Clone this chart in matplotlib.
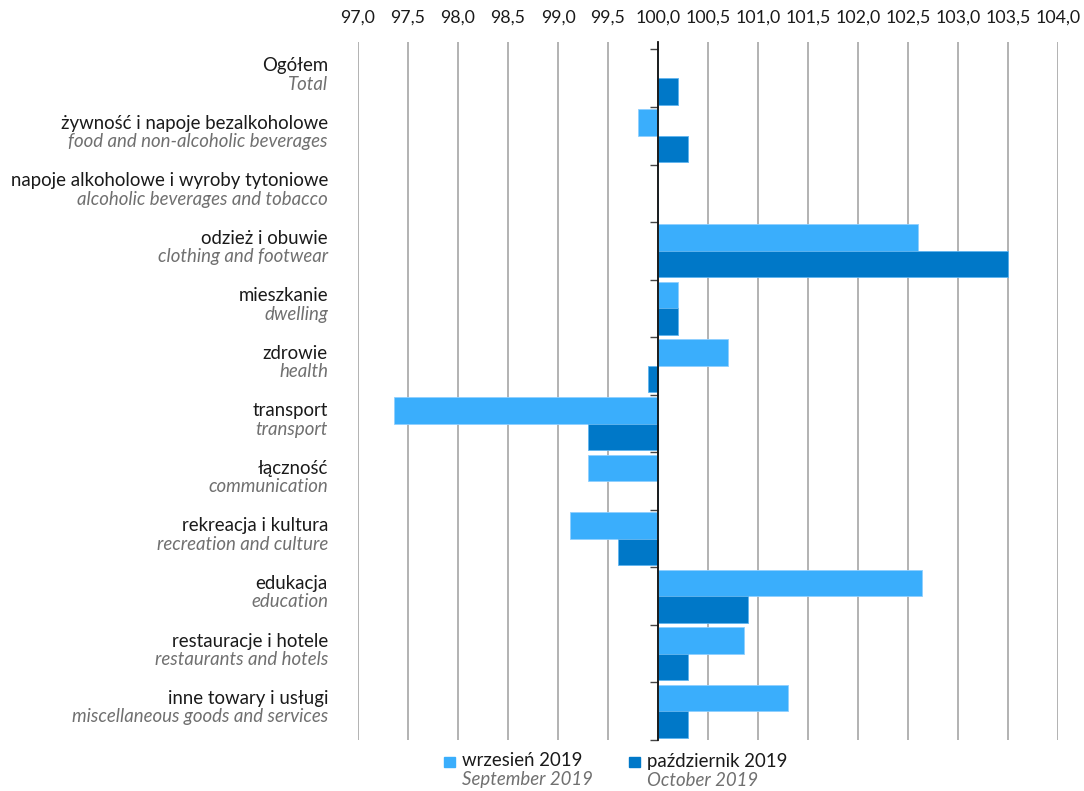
import matplotlib
matplotlib.use("Agg")
import matplotlib.pyplot as plt
from matplotlib.patches import Rectangle
from matplotlib.ticker import FuncFormatter
from matplotlib.transforms import blended_transform_factory

plt.rcParams["font.family"] = ["Lato", "DejaVu Sans"]

categories_pl = [
    "Ogółem",
    "żywność i napoje bezalkoholowe",
    "napoje alkoholowe i wyroby tytoniowe",
    "odzież i obuwie",
    "mieszkanie",
    "zdrowie",
    "transport",
    "łączność",
    "rekreacja i kultura",
    "edukacja",
    "restauracje i hotele",
    "inne towary i usługi",
]
categories_en = [
    "Total",
    "food and non-alcoholic beverages",
    "alcoholic beverages and tobacco",
    "clothing and footwear",
    "dwelling",
    "health",
    "transport",
    "communication",
    "recreation and culture",
    "education",
    "restaurants and hotels",
    "miscellaneous goods and services",
]
sep_2019 = [100.0, 99.8, 100.0, 102.6, 100.2, 100.7, 97.36, 99.3, 99.12, 102.64, 100.86, 101.3]
oct_2019 = [100.2, 100.3, 100.0, 103.5, 100.2, 99.9, 99.3, 100.0, 99.6, 100.9, 100.3, 100.3]
x_ticks = [97.0 + 0.5 * i for i in range(15)]

SEP_COLOR = "#3aaefc"
OCT_COLOR = "#0078c8"
EN_GRAY = "#707070"
FS = 13.4

W, H = 1084, 791
fig = plt.figure(figsize=(W / 100, H / 100), dpi=100)
ax = fig.add_axes([358 / W, (H - 740) / H, 700 / W, 698 / H])

n = len(categories_pl)
bh = 0.46
for i in range(n):
    ax.barh(i - bh / 2, sep_2019[i] - 100, left=100, height=bh,
            color=SEP_COLOR, edgecolor="#8fd0ff", linewidth=0.6, zorder=3)
    ax.barh(i + bh / 2, oct_2019[i] - 100, left=100, height=bh,
            color=OCT_COLOR, edgecolor="#5fb4ef", linewidth=0.6, zorder=3)

ax.set_xlim(97, 104)
ax.set_ylim(n - 0.5, -0.63)
ax.set_xticks(x_ticks)
ax.xaxis.set_major_formatter(FuncFormatter(lambda v, p: f"{v:.1f}".replace(".", ",")))
ax.xaxis.tick_top()
ax.tick_params(axis="x", length=0, pad=12, labelsize=12.8, colors="#1a1a1a")
ax.grid(axis="x", color="#a6a6a6", linewidth=1.2, zorder=0)

for s in ["top", "right", "bottom"]:
    ax.spines[s].set_visible(False)
ax.spines["left"].set_position(("data", 100))
ax.spines["left"].set_color("#111111")
ax.spines["left"].set_linewidth(1.3)
ax.spines["left"].set_zorder(4)
ax.set_yticks([i - 0.5 for i in range(n + 1)])
ax.set_yticklabels([])
ax.tick_params(axis="y", length=6, width=1.0, color="#444444")

trans = blended_transform_factory(fig.transFigure, ax.transData)
lx = 328 / W
for i in range(n):
    ax.text(lx, i - 0.22, categories_pl[i], transform=trans, ha="right", va="center",
            fontsize=FS, color="#1a1a1a")
    ax.text(lx, i + 0.1, categories_en[i], transform=trans, ha="right", va="center",
            fontsize=FS, color=EN_GRAY, style="italic")

# legend
legend_items = [
    (444, SEP_COLOR, "wrzesień 2019", "September 2019"),
    (629, OCT_COLOR, "październik 2019", "October 2019"),
]
for x0, col, pl, en in legend_items:
    fig.patches.append(Rectangle((x0 / W, (H - 767) / H), 11 / W, 10 / H,
                                 transform=fig.transFigure, color=col))
    fig.text((x0 + 18) / W, (H - 761) / H, pl, ha="left", va="center",
             fontsize=FS, color="#1a1a1a")
    fig.text((x0 + 18) / W, (H - 780) / H, en, ha="left", va="center",
             fontsize=FS, color=EN_GRAY, style="italic")

fig.savefig("out.png", dpi=100)
